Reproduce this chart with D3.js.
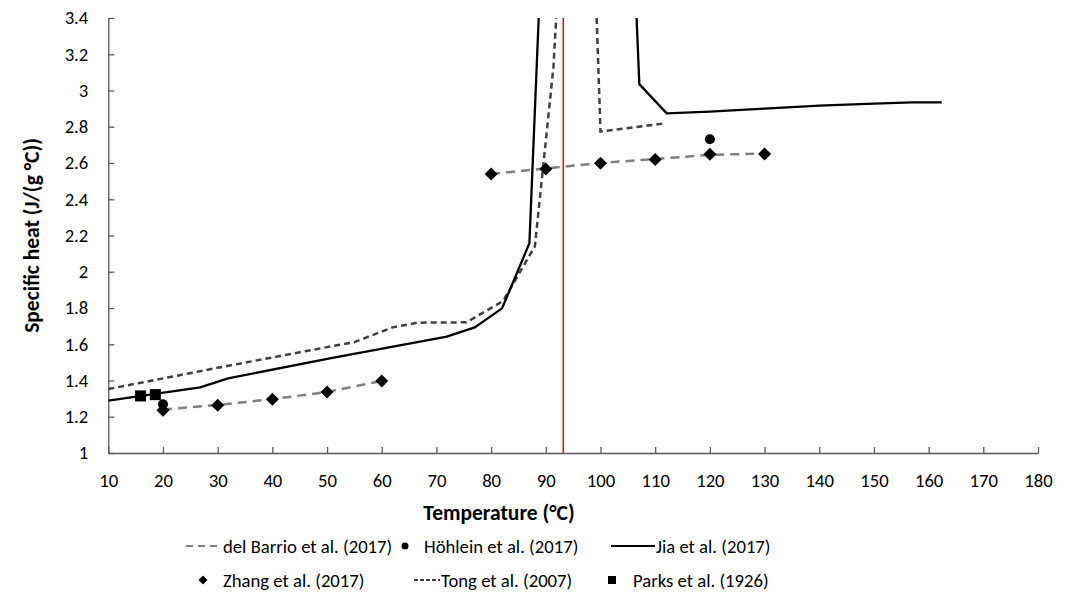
<!DOCTYPE html>
<meta charset="utf-8">
<body style="margin:0;background:#fff">
<div id="chart"></div>
<script src="https://d3js.org/d3.v7.min.js"></script>
<script>
// tick values
var xTicks = d3.range(10, 181, 10);
var yTicks = [1, 1.2, 1.4, 1.6, 1.8, 2, 2.2, 2.4, 2.6, 2.8, 3, 3.2, 3.4];

// del Barrio et al. (2017) - gray long dash, two pieces
var barrioTemp = [20, 30, 40, 50, 60, null, 80, 90, 100, 110, 120, 130];
var barrioHeat = [1.24, 1.265, 1.297, 1.337, 1.398, null, 2.54, 2.57, 2.6, 2.622, 2.645, 2.652];

// Zhang et al. (2017) - diamonds
var zhangTemp = [20, 30, 40, 50, 60, 80, 90, 100, 110, 120, 130];
var zhangHeat = [1.236, 1.263, 1.296, 1.336, 1.397, 2.539, 2.567, 2.598, 2.62, 2.648, 2.65];

// Höhlein et al. (2017) - circles
var hohleinTemp = [20, 120];
var hohleinHeat = [1.269, 2.731];

// Parks et al. (1926) - squares
var parksTemp = [15.9, 18.6];
var parksHeat = [1.315, 1.322];

// Jia et al. (2017) - solid black
var jiaTemp = [10, 26.8, 31.9, 50.5, 71.9, 77, 82, 87, 88.7, null, 106.6, 107.1, 112.1, 120, 130, 140, 150, 157, 162.4];
var jiaHeat = [1.289, 1.362, 1.412, 1.522, 1.642, 1.693, 1.798, 2.157, 3.4, null, 3.4, 3.035, 2.874, 2.883, 2.9, 2.916, 2.928, 2.935, 2.935];

// Tong et al. (2007) - dark short dash
var tongTemp = [10, 30, 50.5, 55, 62, 66.5, 75.5, 82.2, 88, 91.4, 91.9, null, 99.3, 100, 112];
var tongHeat = [1.353, 1.47, 1.587, 1.612, 1.693, 1.719, 1.721, 1.839, 2.14, 3.13, 3.4, null, 3.4, 2.773, 2.82];

var markerTemp = 93.2;

var font = "Carlito, Calibri, Lato, sans-serif";
var fs = 18.7;
var titleFs = 21.5;

var width = 1075, height = 594;
var plotLeft = 108.3, plotRight = 1038, plotTop = 18, plotBottom = 453;

var x = d3.scaleLinear().domain([10, 180]).range([plotLeft, plotRight]);
var y = d3.scaleLinear().domain([1, 3.4]).range([plotBottom, plotTop]);

var svg = d3.select("#chart").append("svg")
  .attr("width", width)
  .attr("height", height)
  .style("font-family", font);

svg.append("clipPath").attr("id", "plotclip")
  .append("rect")
  .attr("x", plotLeft).attr("y", plotTop - 1)
  .attr("width", plotRight - plotLeft).attr("height", plotBottom - plotTop + 1);

function pairs(ts, vs) {
  return ts.map(function(t, i) { return t == null ? null : [t, vs[i]]; });
}

var line = d3.line()
  .defined(function(d) { return d != null; })
  .x(function(d) { return x(d[0]); })
  .y(function(d) { return y(d[1]); });

// axes
var xAxis = svg.append("g")
  .attr("transform", "translate(0," + plotBottom + ")")
  .call(d3.axisBottom(x).tickValues(xTicks).tickSizeInner(-6).tickSizeOuter(0).tickPadding(21));
var yAxis = svg.append("g")
  .attr("transform", "translate(" + plotLeft + ",0)")
  .call(d3.axisLeft(y).tickValues(yTicks).tickSizeInner(-6).tickSizeOuter(0).tickPadding(20)
    .tickFormat(function(d) { return String(+d.toFixed(1)); }));

[xAxis, yAxis].forEach(function(g) {
  g.select(".domain").attr("stroke", "#595959").attr("stroke-width", 1.3);
  g.selectAll(".tick line").attr("stroke", "#595959").attr("stroke-width", 1.3);
  g.selectAll(".tick text").attr("fill", "#000").style("font-size", fs + "px").style("font-family", font);
});

var plot = svg.append("g").attr("clip-path", "url(#plotclip)");

// red vertical marker
plot.append("line")
  .attr("x1", x(markerTemp)).attr("x2", x(markerTemp))
  .attr("y1", y(1)).attr("y2", y(3.4))
  .attr("stroke", "#ff0000").attr("stroke-width", 1.5);

plot.append("path")
  .attr("d", line(pairs(barrioTemp, barrioHeat)))
  .attr("fill", "none").attr("stroke", "#808080").attr("stroke-width", 2.5)
  .attr("stroke-dasharray", "9,6");

plot.append("path")
  .attr("d", line(pairs(tongTemp, tongHeat)))
  .attr("fill", "none").attr("stroke", "#404040").attr("stroke-width", 2.5)
  .attr("stroke-dasharray", "6,4");

plot.append("path")
  .attr("d", line(pairs(jiaTemp, jiaHeat)))
  .attr("fill", "none").attr("stroke", "#000").attr("stroke-width", 2.3)
  .attr("stroke-linejoin", "miter");

function diamond(s) {
  return "M0," + (-s) + "L" + s + ",0L0," + s + "L" + (-s) + ",0Z";
}

plot.selectAll(".zhang")
  .data(pairs(zhangTemp, zhangHeat))
  .enter().append("path")
  .attr("transform", function(d) { return "translate(" + x(d[0]) + "," + y(d[1]) + ")"; })
  .attr("d", diamond(6.5))
  .attr("fill", "#000");

plot.selectAll(".hohlein")
  .data(pairs(hohleinTemp, hohleinHeat))
  .enter().append("circle")
  .attr("cx", function(d) { return x(d[0]); })
  .attr("cy", function(d) { return y(d[1]); })
  .attr("r", 5)
  .attr("fill", "#000");

plot.selectAll(".parks")
  .data(pairs(parksTemp, parksHeat))
  .enter().append("rect")
  .attr("x", function(d) { return x(d[0]) - 5.5; })
  .attr("y", function(d) { return y(d[1]) - 5.5; })
  .attr("width", 11).attr("height", 11)
  .attr("fill", "#000");

// axis titles
svg.append("text")
  .attr("x", 499).attr("y", 520)
  .attr("text-anchor", "middle")
  .style("font-size", titleFs + "px").style("font-weight", "bold")
  .text("Temperature (°C)");

svg.append("text")
  .attr("transform", "translate(39," + ((plotTop + plotBottom) / 2) + ") rotate(-90)")
  .attr("text-anchor", "middle")
  .style("font-size", titleFs + "px").style("font-weight", "bold")
  .text("Specific heat (J/(g °C))");

// legend
var legend = svg.append("g").style("font-size", fs + "px");

function legendText(tx, ty, s) {
  legend.append("text").attr("x", tx).attr("y", ty).attr("dy", "0.35em").text(s);
}
function legendLine(x1, x2, ly, color, dash, w) {
  legend.append("line").attr("x1", x1).attr("x2", x2).attr("y1", ly).attr("y2", ly)
    .attr("stroke", color).attr("stroke-width", w).attr("stroke-dasharray", dash);
}

var row1 = 546, row2 = 580;
legendLine(186, 222, row1, "#808080", "7,5", 2.2);
legendText(223, row1, "del Barrio et al. (2017)");
legend.append("circle").attr("cx", 405).attr("cy", row1).attr("r", 3.5);
legendText(424, row1, "Höhlein et al. (2017)");
legendLine(611, 655, row1, "#000", null, 2.2);
legendText(656, row1, "Jia et al. (2017)");

legend.append("path").attr("transform", "translate(203," + row2 + ")").attr("d", diamond(4.5));
legendText(223, row2, "Zhang et al. (2017)");
legendLine(414, 440, row2, "#404040", "4,2", 2.2);
legendText(441, row2, "Tong et al. (2007)");
legend.append("rect").attr("x", 608).attr("y", row2 - 4).attr("width", 8).attr("height", 8);
legendText(633, row2, "Parks et al. (1926)");
</script>
</body>
